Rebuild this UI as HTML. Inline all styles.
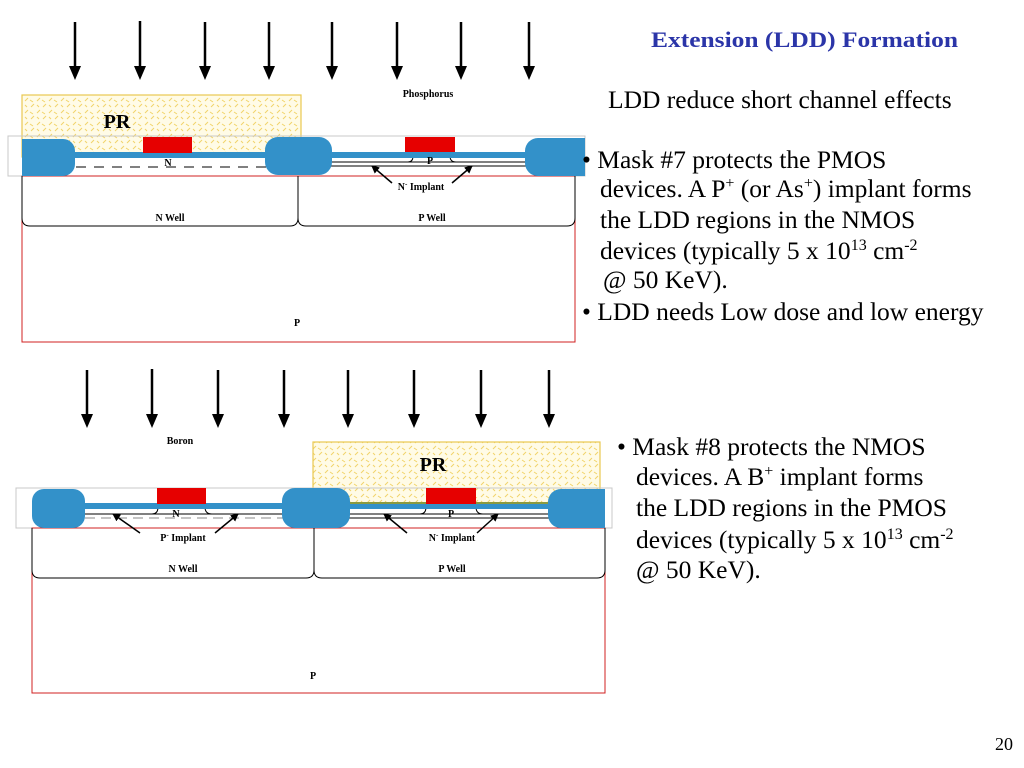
<!DOCTYPE html>
<html><head><meta charset="utf-8"><style>
html,body{margin:0;padding:0;background:#fff;}
svg{display:block;}
</style></head><body>
<svg width="1024" height="768" viewBox="0 0 1024 768" xmlns="http://www.w3.org/2000/svg" font-family="'Liberation Serif', serif">
<defs>
<pattern id="h" width="12" height="12" patternUnits="userSpaceOnUse">
<rect width="12" height="12" fill="#fffbe6"/>
<path d="M1 5 L4 2 M7 11 L10 8 M6 4 L9 6 M1 9 L3 11" stroke="#f2d46a" stroke-width="1"/>
</pattern>
<marker id="ah" markerWidth="8" markerHeight="8" refX="7" refY="4" orient="auto" markerUnits="userSpaceOnUse"><path d="M0 0 L8 4 L0 8z" fill="#000"/></marker>
</defs>

<g fill="#000" stroke="#000" stroke-width="2.5">
<line x1="75" y1="22" x2="75" y2="68"/><path d="M69 66 L81 66 L75 80z" stroke="none"/>
<line x1="140" y1="21" x2="140" y2="68"/><path d="M134 66 L146 66 L140 80z" stroke="none"/>
<line x1="205" y1="22" x2="205" y2="68"/><path d="M199 66 L211 66 L205 80z" stroke="none"/>
<line x1="269" y1="22" x2="269" y2="68"/><path d="M263 66 L275 66 L269 80z" stroke="none"/>
<line x1="332" y1="22" x2="332" y2="68"/><path d="M326 66 L338 66 L332 80z" stroke="none"/>
<line x1="397" y1="22" x2="397" y2="68"/><path d="M391 66 L403 66 L397 80z" stroke="none"/>
<line x1="461" y1="22" x2="461" y2="68"/><path d="M455 66 L467 66 L461 80z" stroke="none"/>
<line x1="529" y1="22" x2="529" y2="68"/><path d="M523 66 L535 66 L529 80z" stroke="none"/>
</g>
<text x="428" y="97" font-size="10" font-weight="bold" text-anchor="middle">Phosphorus</text>

<rect x="22" y="95" width="279" height="62" fill="url(#h)" stroke="#e8c850" stroke-width="1.2"/>
<text x="117" y="128" font-size="20" font-weight="bold" text-anchor="middle">PR</text>
<rect x="8" y="136" width="577" height="40" fill="none" stroke="#c8c8c8" stroke-width="1"/>
<rect x="22" y="176" width="553" height="166" fill="#fff" stroke="#d02020" stroke-width="1"/>
<path d="M22 176 L22 218 Q22 226 30 226 L290 226 Q298 226 298 218 L298 176 M298 218 Q298 226 306 226 L567 226 Q575 226 575 218 L575 176" fill="none" stroke="#000" stroke-width="1"/>
<line x1="22" y1="167" x2="270" y2="167" stroke="#000" stroke-dasharray="10,8" stroke-width="1"/>
<line x1="330" y1="162" x2="530" y2="162" stroke="#000" stroke-width="1"/>
<line x1="330" y1="166" x2="530" y2="166" stroke="#000" stroke-width="1"/>
<path d="M330 162 L408 162 Q413 162 413 156 M450 156 Q450 162 456 162" fill="none" stroke="#000"/>
<rect x="65" y="152" width="470" height="6" fill="#3391c9"/>
<rect x="22" y="139" width="53" height="37" rx="12" fill="#3391c9"/>
<rect x="22" y="139" width="15" height="37" fill="#3391c9"/>
<rect x="265" y="137" width="67" height="38" rx="13" fill="#3391c9"/>
<rect x="525" y="138" width="60" height="38" rx="13" fill="#3391c9"/>
<rect x="570" y="138" width="15" height="38" fill="#3391c9"/>
<rect x="143" y="137" width="49" height="16" fill="#e60000"/>
<rect x="405" y="137" width="50" height="15" fill="#e60000"/>
<text x="168" y="166" font-size="10" font-weight="bold" text-anchor="middle">N</text>
<text x="430" y="164" font-size="10" font-weight="bold" text-anchor="middle">P</text>
<text x="421" y="190" font-size="10" font-weight="bold" text-anchor="middle">N<tspan font-size="7" dy="-4">-</tspan><tspan dy="4"> Implant</tspan></text>
<line x1="392" y1="183" x2="372" y2="166" stroke="#000" stroke-width="1.5" marker-end="url(#ah)"/>
<line x1="452" y1="183" x2="472" y2="166" stroke="#000" stroke-width="1.5" marker-end="url(#ah)"/>
<text x="170" y="221" font-size="10" font-weight="bold" text-anchor="middle">N Well</text>
<text x="432" y="221" font-size="10" font-weight="bold" text-anchor="middle">P Well</text>
<text x="297" y="326" font-size="10" font-weight="bold" text-anchor="middle">P</text>

<g fill="#000" stroke="#000" stroke-width="2.5">
<line x1="87" y1="370" x2="87" y2="416"/><path d="M81 414 L93 414 L87 428z" stroke="none"/>
<line x1="152" y1="369" x2="152" y2="416"/><path d="M146 414 L158 414 L152 428z" stroke="none"/>
<line x1="218" y1="370" x2="218" y2="416"/><path d="M212 414 L224 414 L218 428z" stroke="none"/>
<line x1="284" y1="370" x2="284" y2="416"/><path d="M278 414 L290 414 L284 428z" stroke="none"/>
<line x1="348" y1="370" x2="348" y2="416"/><path d="M342 414 L354 414 L348 428z" stroke="none"/>
<line x1="414" y1="370" x2="414" y2="416"/><path d="M408 414 L420 414 L414 428z" stroke="none"/>
<line x1="481" y1="370" x2="481" y2="416"/><path d="M475 414 L487 414 L481 428z" stroke="none"/>
<line x1="549" y1="370" x2="549" y2="416"/><path d="M543 414 L555 414 L549 428z" stroke="none"/>
</g>
<text x="180" y="444" font-size="10" font-weight="bold" text-anchor="middle">Boron</text>

<rect x="313" y="442" width="287" height="63" fill="url(#h)" stroke="#e8c850" stroke-width="1.2"/>
<text x="433" y="471" font-size="20" font-weight="bold" text-anchor="middle">PR</text>
<rect x="16" y="488" width="596" height="40" fill="none" stroke="#c8c8c8" stroke-width="1"/>
<rect x="32" y="528" width="573" height="165" fill="#fff" stroke="#d02020" stroke-width="1"/>
<path d="M32 528 L32 570 Q32 578 40 578 L306 578 Q314 578 314 570 L314 528 M314 570 Q314 578 322 578 L597 578 Q605 578 605 570 L605 528" fill="none" stroke="#000" stroke-width="1"/>
<line x1="85" y1="518" x2="290" y2="518" stroke="#888" stroke-dasharray="10,6" stroke-width="1"/>
<line x1="85" y1="514" x2="290" y2="514" stroke="#000" stroke-width="1"/>
<line x1="345" y1="514" x2="550" y2="514" stroke="#000" stroke-width="1"/>
<line x1="345" y1="518" x2="550" y2="518" stroke="#000" stroke-width="1"/>
<path d="M100 514 L152 514 Q158 514 158 507 M205 507 Q205 514 212 514" fill="none" stroke="#000"/>
<path d="M360 514 L420 514 Q426 514 426 507 M476 507 Q476 514 483 514" fill="none" stroke="#000"/>
<rect x="75" y="503" width="480" height="6" fill="#3391c9"/>
<rect x="345" y="502" width="205" height="2" fill="#8a9a40"/>
<rect x="32" y="489" width="53" height="39" rx="12" fill="#3391c9"/>
<rect x="282" y="488" width="68" height="40" rx="13" fill="#3391c9"/>
<rect x="548" y="489" width="57" height="39" rx="13" fill="#3391c9"/>
<rect x="590" y="489" width="15" height="39" fill="#3391c9"/>
<rect x="157" y="488" width="49" height="16" fill="#e60000"/>
<rect x="426" y="488" width="50" height="16" fill="#e60000"/>
<text x="176" y="517" font-size="10" font-weight="bold" text-anchor="middle">N</text>
<text x="451" y="517" font-size="10" font-weight="bold" text-anchor="middle">P</text>
<text x="183" y="541" font-size="10" font-weight="bold" text-anchor="middle">P<tspan font-size="7" dy="-4">-</tspan><tspan dy="4"> Implant</tspan></text>
<text x="452" y="541" font-size="10" font-weight="bold" text-anchor="middle">N<tspan font-size="7" dy="-4">-</tspan><tspan dy="4"> Implant</tspan></text>
<line x1="140" y1="533" x2="113" y2="514" stroke="#000" stroke-width="1.5" marker-end="url(#ah)"/>
<line x1="215" y1="533" x2="238" y2="514" stroke="#000" stroke-width="1.5" marker-end="url(#ah)"/>
<line x1="407" y1="533" x2="384" y2="514" stroke="#000" stroke-width="1.5" marker-end="url(#ah)"/>
<line x1="477" y1="533" x2="498" y2="514" stroke="#000" stroke-width="1.5" marker-end="url(#ah)"/>
<text x="183" y="572" font-size="10" font-weight="bold" text-anchor="middle">N Well</text>
<text x="452" y="572" font-size="10" font-weight="bold" text-anchor="middle">P Well</text>
<text x="313" y="679" font-size="10" font-weight="bold" text-anchor="middle">P</text>

<text x="651" y="47" font-size="22" font-weight="bold" fill="#2b35a8" textLength="307" lengthAdjust="spacingAndGlyphs">Extension (LDD) Formation</text>
<g font-size="25.5" fill="#000">
<text x="608" y="108">LDD reduce short channel effects</text>
<text x="582" y="168">• Mask #7 protects the PMOS</text>
<text x="600" y="197">devices. A P<tspan font-size="16" dy="-9">+</tspan><tspan dy="9"> (or As</tspan><tspan font-size="16" dy="-9">+</tspan><tspan dy="9">) implant forms</tspan></text>
<text x="600" y="228">the LDD regions in the NMOS</text>
<text x="600" y="259">devices (typically 5 x 10<tspan font-size="16" dy="-9">13</tspan><tspan dy="9"> cm</tspan><tspan font-size="16" dy="-9">-2</tspan></text>
<text x="603" y="288">@ 50 KeV).</text>
<text x="582" y="320">• LDD needs Low dose and low energy</text>

<text x="617" y="455">• Mask #8 protects the NMOS</text>
<text x="636" y="485">devices. A B<tspan font-size="16" dy="-9">+</tspan><tspan dy="9"> implant forms</tspan></text>
<text x="636" y="516">the LDD regions in the PMOS</text>
<text x="636" y="548">devices (typically 5 x 10<tspan font-size="16" dy="-9">13</tspan><tspan dy="9"> cm</tspan><tspan font-size="16" dy="-9">-2</tspan></text>
<text x="636" y="578">@ 50 KeV).</text>
</g>
<text x="995" y="750" font-size="18">20</text>
</svg>
</body></html>
